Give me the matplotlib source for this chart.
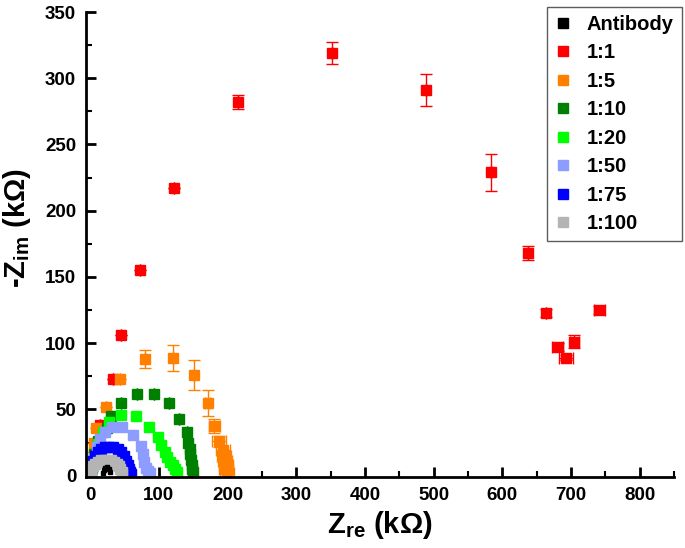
import matplotlib.pyplot as plt
import numpy as np

# Nyquist data: Z_re (kOhm), -Z_im (kOhm), error bars
ab_x = [19, 20, 22, 25, 28, 29]
ab_y = [2, 4, 6, 6.5, 5, 3]

r1_x = [2, 5, 8, 14, 34, 45, 73, 122, 216, 352, 489, 584, 637, 664, 681, 693, 705, 741]
r1_y = [3, 10, 22, 38, 73, 106, 155, 217, 282, 319, 291, 229, 168, 123, 97, 89, 101, 125]
r1_ye = [0, 0, 0, 0, 0, 0, 0, 0, 5, 8, 12, 14, 5, 3, 3, 2, 5, 3]
r1_xe = [0, 0, 0, 0, 0, 0, 0, 0, 0, 0, 0, 0, 0, 0, 8, 10, 7, 8]

r5_x = [3, 5, 6, 9, 23, 44, 80, 120, 151, 171, 181, 188, 193, 195, 196, 197.5, 198, 199]
r5_y = [10, 18, 25, 36, 52, 73, 88, 89, 76, 55, 37.5, 26, 19, 15, 11, 8, 5, 2]
r5_ye = [0, 0, 0, 0, 0, 0, 7, 10, 11, 10, 5, 4, 0, 0, 0, 0, 0, 0]
r5_xe = [0, 0, 0, 0, 0, 0, 0, 0, 0, 4, 8, 10, 10, 10, 10, 10, 10, 10]

r10_x = [3, 6, 12, 24, 30, 45.5, 69, 93, 115, 129.5, 141, 143, 145, 146, 147, 148, 149, 150]
r10_y = [8, 16, 26, 36, 45, 55, 61.5, 61.5, 55, 43, 33, 25, 20, 16, 12, 8, 5, 3]
r10_xe = [0, 0, 0, 0, 0, 0, 0, 0, 0, 0, 0, 3, 5, 5, 5, 5, 5, 5]

r20_x = [3, 7, 12, 19, 27, 45.5, 67, 86, 99, 103, 108.6, 112, 116, 121, 124, 126]
r20_y = [6, 14, 24, 33, 40.5, 46, 45, 37, 29, 23, 17.5, 14, 10, 8, 5, 3]

r50_x = [2, 5, 10, 15, 22, 32, 47, 62, 74.6, 77, 79, 82, 84, 87]
r50_y = [5, 13, 22, 28, 33, 36.5, 37, 31, 22.5, 16.5, 10.5, 6, 3.6, 2]

r75_x = [1, 2, 4, 7, 11, 16, 22, 28, 34, 40, 45, 49, 52, 55, 57, 58, 59]
r75_y = [3, 7, 11, 14.5, 17.5, 20, 21.5, 22, 21.5, 20, 17.5, 14.5, 11, 8, 5, 3, 1]

r100_x = [1, 2, 4, 7, 11, 16, 21, 26, 31, 35, 39, 42, 44, 46, 47]
r100_y = [2, 5, 7, 9, 10.5, 11.5, 12, 12, 11.5, 10.5, 9, 7, 5, 2.5, 1]

labels = ['Antibody', '1:1', '1:5', '1:10', '1:20', '1:50', '1:75', '1:100']
colors = ['black', '#ff0000', '#ff8000', '#008000', '#00ff00', '#8c9cff', '#0000ff', '#b4b4b4']

plt.rcParams['font.family'] = ['Liberation Sans', 'DejaVu Sans']
plt.rcParams['mathtext.fontset'] = 'custom'
plt.rcParams['mathtext.bf'] = 'Liberation Sans:bold'
plt.rcParams['mathtext.rm'] = 'Liberation Sans:bold'

fig = plt.figure(figsize=(6.85, 5.48), dpi=100)
ax = fig.add_axes([0.1255, 0.1296, 0.8585, 0.8485])

ms = 7.5
handles = {}
series = [
    ('1:1', r1_x, r1_y, r1_ye, r1_xe),
    ('1:5', r5_x, r5_y, r5_ye, r5_xe),
    ('1:10', r10_x, r10_y, None, r10_xe),
    ('1:20', r20_x, r20_y, None, None),
    ('1:50', r50_x, r50_y, None, None),
    ('1:75', r75_x, r75_y, None, None),
    ('1:100', r100_x, r100_y, None, None),
]
for lab, x, y, ye, xe in series:
    c = colors[labels.index(lab)]
    h = ax.errorbar(x, y, yerr=ye, xerr=xe, fmt='s', color=c, ms=ms, mec=c,
                    ecolor=c, elinewidth=1, capsize=4, capthick=1)
    handles[lab] = h[0]

ax.errorbar(ab_x, ab_y, fmt='s', color='black', ms=3)
handles['Antibody'] = ax.plot([], [], 's', color='black', ms=ms)[0]

ax.set_xlim(-6, 850)
ax.set_ylim(-1, 350)
ax.set_xticks(np.arange(0, 801, 100))
ax.set_xticks(np.arange(50, 851, 100), minor=True)
ax.set_yticks(np.arange(0, 351, 50))
ax.set_yticks(np.arange(25, 351, 50), minor=True)

for s in ['top', 'right']:
    ax.spines[s].set_visible(False)
for s in ['left', 'bottom']:
    ax.spines[s].set_linewidth(2)
ax.tick_params(which='major', direction='in', length=7, width=2, labelsize=13.5, pad=7)
ax.tick_params(which='minor', direction='in', length=4, width=1.5)
for t in ax.get_xticklabels() + ax.get_yticklabels():
    t.set_fontweight('bold')

ax.set_xlabel(r'$\mathbf{Z_{re}}$ (k$\Omega$)', fontsize=21, fontweight='bold', labelpad=4)
ax.set_ylabel(r'-$\mathbf{Z_{im}}$ (k$\Omega$)', fontsize=21, fontweight='bold')
ax.yaxis.set_label_coords(-0.09, 0.535)

leg = ax.legend([handles[l] for l in labels], labels, loc='upper right',
                bbox_to_anchor=(1.0136, 1.011), borderaxespad=0,
                prop={'weight': 'bold', 'size': 14.5},
                frameon=True, fancybox=False, edgecolor='#333333', handlelength=0.8,
                markerscale=0.9, labelspacing=0.47, borderpad=0.4, handletextpad=0.8)
leg.get_frame().set_linewidth(1)

fig.savefig('out.png', dpi=100)
